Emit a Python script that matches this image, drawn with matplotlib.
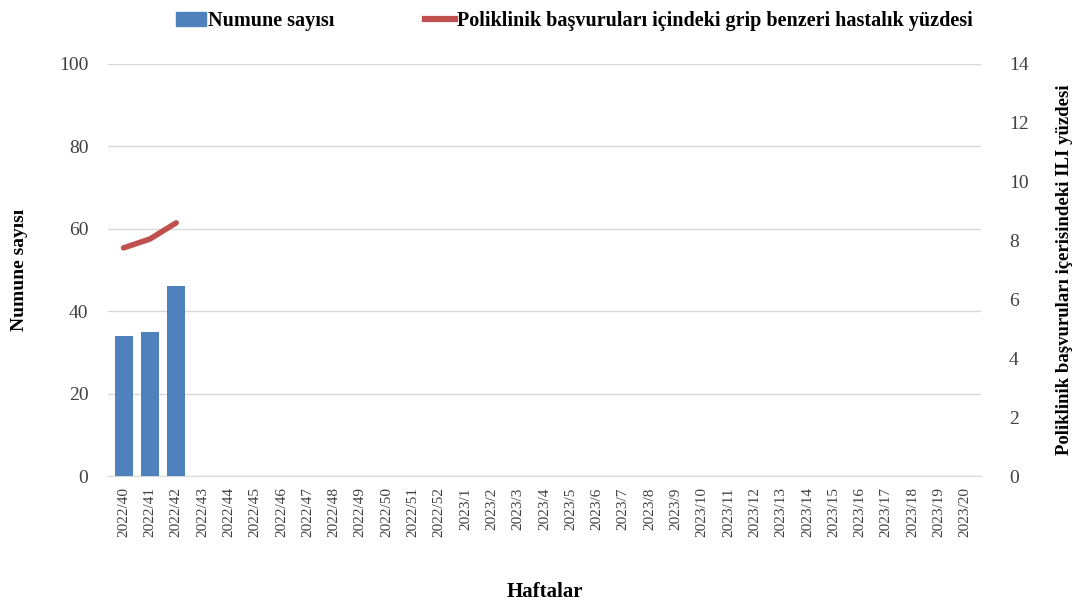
import matplotlib.pyplot as plt
from matplotlib.patches import Patch
from matplotlib.lines import Line2D
import numpy as np

plt.rcParams['font.family'] = ['Liberation Serif', 'DejaVu Serif']

# weeks 2022/40 .. 2023/20
weeks = [f"2022/{w}" for w in range(40, 53)] + [f"2023/{w}" for w in range(1, 21)]
samples = [34, 35, 46]          # Numune sayısı
ili_pct = [7.75, 8.05, 8.6]      # ILI yüzdesi

bar_color = "#4f81bd"
line_color = "#c0504d"

fig = plt.figure(figsize=(10.78, 6.08), dpi=100)
ax = fig.add_axes([0.1, 0.217, 0.81, 0.678])
x = np.arange(len(weeks))

ax.bar(x[:len(samples)], samples, width=0.68, color=bar_color, zorder=3)
ax.set_xlim(-0.6, len(weeks) - 0.4)
ax.set_ylim(0, 100)
ax.set_yticks(range(0, 101, 20))
ax.grid(axis='y', color='#d9d9d9', linewidth=1, zorder=0)
ax.set_xticks(x)
ax.set_xticklabels(weeks, rotation=90, fontsize=11, color='#404040')
ax.tick_params(axis='x', length=0, pad=8)
ax.tick_params(axis='y', length=0, pad=14, labelsize=14, colors='#404040')
for s in ['top', 'right', 'left']:
    ax.spines[s].set_visible(False)
ax.spines['bottom'].set_color('#d9d9d9')
ax.set_ylabel("Numune sayısı", fontsize=14, fontweight='bold', labelpad=22)
ax.set_xlabel("Haftalar", fontsize=15, fontweight='bold', labelpad=32)

ax2 = ax.twinx()
ax2.plot(x[:len(ili_pct)], ili_pct, color=line_color, linewidth=4,
         solid_capstyle='round', zorder=4)
ax2.set_ylim(0, 14)
ax2.set_yticks(range(0, 15, 2))
ax2.tick_params(axis='y', length=0, pad=20, labelsize=14, colors='#404040')
for s in ['top', 'right', 'left', 'bottom']:
    ax2.spines[s].set_visible(False)
ax2.set_ylabel("Poliklinik başvuruları içerisindeki ILI yüzdesi",
               fontsize=13.5, fontweight='bold', labelpad=20)

handles = [Patch(color=bar_color),
           Line2D([0], [0], color=line_color, linewidth=4.5)]
labels = ["Numune sayısı",
          "Poliklinik başvuruları içindeki grip benzeri hastalık yüzdesi"]
fig.legend(handles, labels, loc='upper center', bbox_to_anchor=(0.533, 1.012),
           ncol=2, frameon=False, prop={'weight': 'bold', 'size': 14.5},
           handlelength=1.5, handletextpad=0.1, columnspacing=4.5)

fig.savefig("out.png", dpi=100)
